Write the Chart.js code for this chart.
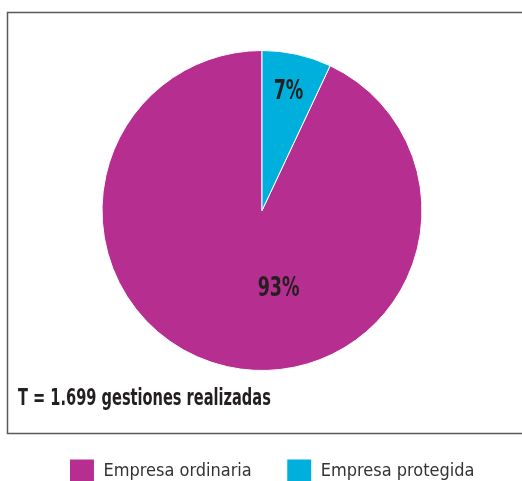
<!DOCTYPE html>
<html lang="es">
<head>
  <meta charset="UTF-8">
  <title>Gestiones realizadas</title>
  <style>
    html, body { margin: 0; padding: 0; background: #fff; overflow: hidden; }
    #wrap { position: relative; width: 522px; height: 494px; }
  </style>
  <script src="https://cdn.jsdelivr.net/npm/chart.js"></script>
</head>
<body>
  <div id="wrap"><canvas id="pie" width="522" height="494"></canvas></div>
  <script>
    const categories = ['Empresa ordinaria', 'Empresa protegida'];
    const values = [93, 7];
    const sliceColors = ['#b72e91', '#00b0dc'];
    const totalText = 'T = 1.699 gestiones realizadas';

    const FONT = "'DejaVu Sans Condensed', 'Liberation Sans Narrow', sans-serif";

    // narrow text helper (the original uses a condensed face)
    function narrowText(ctx, txt, x, y, squeeze) {
      ctx.save();
      ctx.translate(x, y);
      ctx.scale(squeeze, 1);
      ctx.fillText(txt, 0, 0);
      ctx.restore();
    }

    // frame around the pie + the total note
    const framePlugin = {
      id: 'frame',
      afterLayout(chart) {
        // legend in the original sits a bit right of the pie centre
        chart.legend.left += 10;
        chart.legend.right += 10;
      },
      beforeDraw(chart) {
        const ctx = chart.ctx;
        ctx.save();
        ctx.strokeStyle = '#5a5a5a';
        ctx.lineWidth = 1.5;
        ctx.strokeRect(7.5, 12.5, 520, 421);
        ctx.restore();
      },
      afterDraw(chart) {
        const ctx = chart.ctx;
        ctx.save();
        ctx.fillStyle = '#231f20';
        ctx.font = 'bold 23px ' + FONT;
        ctx.textBaseline = 'alphabetic';
        ctx.textAlign = 'left';
        narrowText(ctx, totalText, 18, 405, 0.705);
        ctx.restore();
      }
    };

    // percentage labels inside slices
    const pctPlugin = {
      id: 'pct',
      afterDatasetsDraw(chart) {
        const ctx = chart.ctx;
        const meta = chart.getDatasetMeta(0);
        const total = values.reduce((a, b) => a + b, 0);
        const place = [{ angle: 78, f: 0.5 }, { f: 0.76 }];
        ctx.save();
        ctx.fillStyle = '#231f20';
        ctx.font = 'bold 27px ' + FONT;
        ctx.textAlign = 'center';
        ctx.textBaseline = 'middle';
        meta.data.forEach((arc, i) => {
          const p = arc.getProps(['x', 'y', 'startAngle', 'endAngle', 'outerRadius'], true);
          const a = place[i].angle !== undefined ? place[i].angle * Math.PI / 180 : (p.startAngle + p.endAngle) / 2;
          const r = p.outerRadius * place[i].f;
          narrowText(ctx, Math.round(values[i] / total * 100) + '%', p.x + Math.cos(a) * r, p.y + Math.sin(a) * r, 0.72);
        });
        ctx.restore();
      }
    };

    new Chart(document.getElementById('pie'), {
      type: 'pie',
      data: {
        labels: categories,
        datasets: [{
          data: values,
          backgroundColor: sliceColors,
          borderColor: '#ffffff',
          borderWidth: 1
        }]
      },
      options: {
        responsive: false,
        animation: false,
        rotation: values[1] / 100 * 360,
        layout: { padding: { top: 50, left: 2, right: 0, bottom: 0 } },
        plugins: {
          tooltip: { enabled: false },
          legend: {
            position: 'bottom',
            align: 'center',
            // empty title only used as spacer between frame and legend
            title: { display: true, text: ' ', font: { size: 10 }, padding: { top: 41, bottom: 0 } },
            labels: {
              font: { family: FONT, size: 18 },
              color: '#333333',
              boxWidth: 25,
              boxHeight: 25,
              padding: 35
            }
          }
        }
      },
      plugins: [framePlugin, pctPlugin]
    });
  </script>
</body>
</html>
